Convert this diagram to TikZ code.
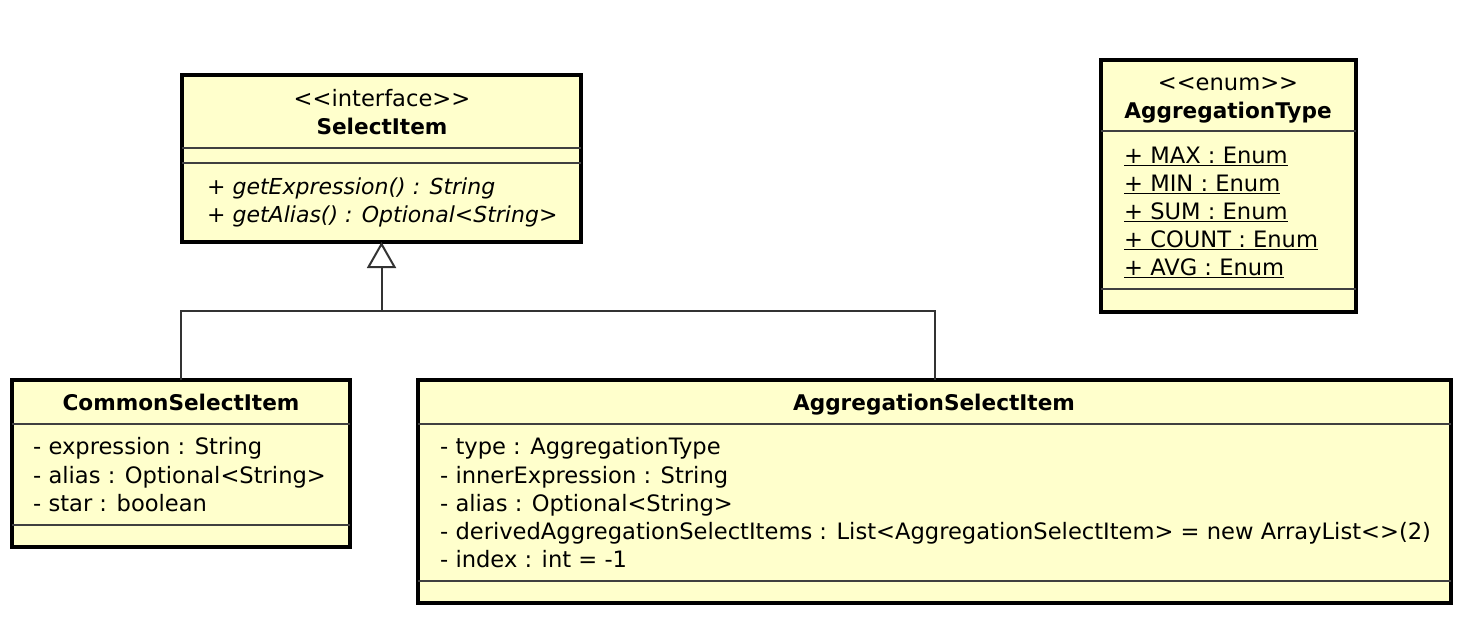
\documentclass[tikz,border=0pt]{standalone}
\usepackage{fontspec}
\setmainfont{DejaVu Sans}
\usetikzlibrary{arrows.meta}
\definecolor{umlfill}{RGB}{255,255,204}
\tikzset{
  cls/.style={draw=black, line width=3.5pt, fill=umlfill, anchor=north west, inner sep=0pt, outer sep=0pt},
  sepline/.style={line width=1.8pt, draw=black!75},
  txt/.style={anchor=mid west, inner sep=0pt, yshift=-4pt, font=\fontsize{22.6}{26}\selectfont},
  itxt/.style={anchor=mid west, inner sep=0pt, yshift=-4pt, font=\fontsize{22}{26}\selectfont\itshape},
  ctxt/.style={anchor=mid, inner sep=0pt, yshift=-4pt, font=\fontsize{22.6}{26}\selectfont},
  btxt/.style={anchor=mid, inner sep=0pt, yshift=-4pt, font=\fontsize{21.6}{26}\selectfont\bfseries},
  link/.style={line width=2pt, draw=black!80},
}
\begin{document}
\begin{tikzpicture}[x=1pt,y=-1pt]
\useasboundingbox (0,0) rectangle (1464,622);
% SelectItem
\node[cls, minimum width=399pt, minimum height=167pt] (si) at (182,75) {};
\draw[sepline] (si.west |- 0,148) -- (si.east |- 0,148);
\draw[sepline] (si.west |- 0,163) -- (si.east |- 0,163);
\node[ctxt] (si-st) at (382,100) {<{}<interface>{}>};
\node[btxt] (si-nm) at (382,128) {SelectItem};
\node[itxt] (si-m1) at (207,188) {+ getExpression() : String};
\node[itxt] (si-m2) at (207,216) {+ getAlias() : Optional<String>};
% AggregationType
\node[cls, minimum width=255pt, minimum height=252pt] (at) at (1101,60) {};
\draw[sepline] (at.west |- 0,131) -- (at.east |- 0,131);
\draw[sepline] (at.west |- 0,289) -- (at.east |- 0,289);
\node[ctxt] (at-st) at (1228,84) {<{}<enum>{}>};
\node[btxt] (at-nm) at (1228,112) {AggregationType};
\node[txt] (at-a1) at (1124,157) {\underline{+ MAX : Enum}};
\node[txt] (at-a2) at (1124,185) {\underline{+ MIN : Enum}};
\node[txt] (at-a3) at (1124,213) {\underline{+ SUM : Enum}};
\node[txt] (at-a4) at (1124,241) {\underline{+ COUNT : Enum}};
\node[txt] (at-a5) at (1124,269) {\underline{+ AVG : Enum}};
% CommonSelectItem
\node[cls, minimum width=338pt, minimum height=167pt] (csi) at (12,380) {};
\draw[sepline] (csi.west |- 0,424) -- (csi.east |- 0,424);
\draw[sepline] (csi.west |- 0,525) -- (csi.east |- 0,525);
\node[btxt] (csi-nm) at (181,404) {CommonSelectItem};
\node[txt] (csi-a1) at (33,448) {- expression : String};
\node[txt] (csi-a2) at (33,477) {- alias : Optional<String>};
\node[txt] (csi-a3) at (33,505) {- star : boolean};
% AggregationSelectItem
\node[cls, minimum width=1033pt, minimum height=223pt] (asi) at (418,380) {};
\draw[sepline] (asi.west |- 0,424) -- (asi.east |- 0,424);
\draw[sepline] (asi.west |- 0,581) -- (asi.east |- 0,581);
\node[btxt] (asi-nm) at (934,404) {AggregationSelectItem};
\node[txt] (asi-a1) at (440,448) {- type : AggregationType};
\node[txt] (asi-a2) at (440,477) {- innerExpression : String};
\node[txt] (asi-a3) at (440,505) {- alias : Optional<String>};
\node[txt] (asi-a4) at (440,533) {- derivedAggregationSelectItems : List<AggregationSelectItem> = new ArrayList<{}>(2)};
\node[txt] (asi-a5) at (440,561) {- index : int = -1};
% generalization
\coordinate (jn) at (si.south |- 0,311);
\draw[link] (csi.north) |- (jn) -| (asi.north);
\draw[link, -{Triangle[open, length=26pt, width=29pt, line width=2pt]}] (jn) -- (si.south);
\end{tikzpicture}
\end{document}
